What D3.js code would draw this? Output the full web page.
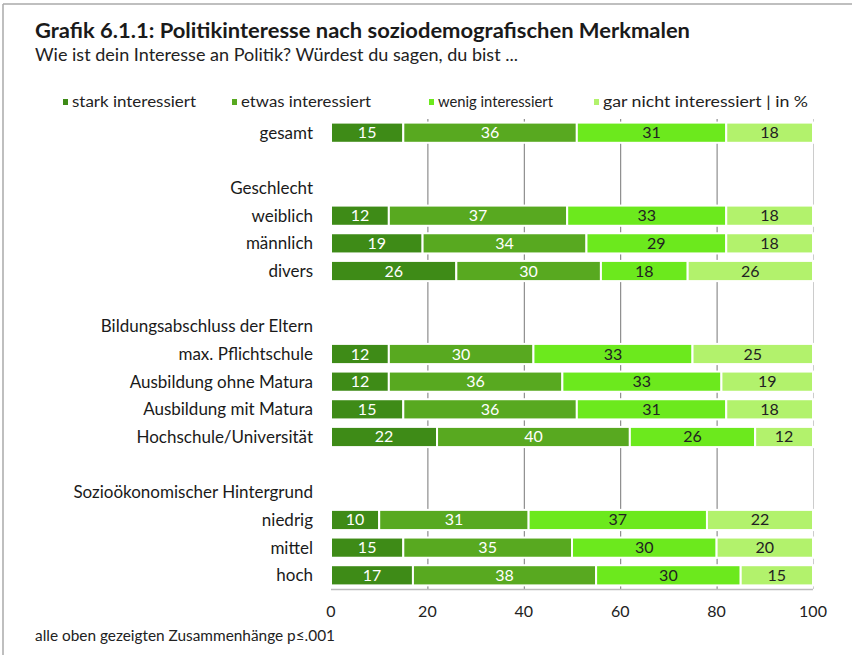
<!DOCTYPE html>
<html>
<head>
<meta charset="utf-8">
<script src="https://cdn.jsdelivr.net/npm/d3@7.9.0/dist/d3.min.js"></script>
<style>
  body { margin: 0; background: #fff; }
  svg { font-family: Lato, "Open Sans", sans-serif; }
</style>
</head>
<body>
<svg id="chart" width="852" height="655"></svg>
<script>
const rows = [
  "gesamt", "", "Geschlecht", "weiblich", "männlich", "divers", "",
  "Bildungsabschluss der Eltern", "max. Pflichtschule", "Ausbildung ohne Matura",
  "Ausbildung mit Matura", "Hochschule/Universität", "",
  "Sozioökonomischer Hintergrund", "niedrig", "mittel", "hoch"
];
const seriesNames = ["stark interessiert", "etwas interessiert", "wenig interessiert", "gar nicht interessiert | in %"];
const stark    = [15, null, null, 12, 19, 26, null, null, 12, 12, 15, 22, null, null, 10, 15, 17];
const etwas    = [36, null, null, 37, 34, 30, null, null, 30, 36, 36, 40, null, null, 31, 35, 38];
const wenig    = [31, null, null, 33, 29, 18, null, null, 33, 33, 31, 26, null, null, 37, 30, 30];
const garNicht = [18, null, null, 18, 18, 26, null, null, 25, 19, 18, 12, null, null, 22, 20, 15];
const ticks = [0, 20, 40, 60, 80, 100];

const colors = ["#3e8b17", "#58a920", "#6ce91d", "#b2f26c"];
const textColors = ["#fff", "#fff", "#222", "#222"];

const svg = d3.select("#chart");

// frame
svg.append("line").attr("x1", 3).attr("x2", 852).attr("y1", 4).attr("y2", 4).attr("stroke", "#aaa").attr("stroke-width", 1.5);
svg.append("line").attr("x1", 3).attr("x2", 3).attr("y1", 4).attr("y2", 655).attr("stroke", "#aaa").attr("stroke-width", 1.5);

// headings
svg.append("text").attr("x", 35).attr("y", 38).attr("font-size", 20).attr("font-weight", "bold")
  .attr("fill", "#1a1a1a").attr("textLength", 655).attr("lengthAdjust", "spacingAndGlyphs")
  .text("Grafik 6.1.1: Politikinteresse nach soziodemografischen Merkmalen");
svg.append("text").attr("x", 35).attr("y", 61).attr("font-size", 16.5).attr("fill", "#222")
  .attr("textLength", 483).attr("lengthAdjust", "spacingAndGlyphs")
  .text("Wie ist dein Interesse an Politik? Würdest du sagen, du bist ...");

// legend
const legendX = [63, 232, 429, 594];
const legendW = [124, 130, 115, 205];
seriesNames.forEach((name, i) => {
  svg.append("rect").attr("x", legendX[i]).attr("y", 99).attr("width", 5).attr("height", 6).attr("fill", colors[i]);
  svg.append("text").attr("x", legendX[i] + 9).attr("y", 107).attr("font-size", 15.5).attr("fill", "#222")
    .attr("textLength", legendW[i]).attr("lengthAdjust", "spacingAndGlyphs").text(name);
});

const x = d3.scaleLinear().domain([0, 100]).range([331, 813]);
const y = d3.scaleBand().domain(d3.range(rows.length)).range([119, 589]).paddingInner(0.27).paddingOuter(0.13);

// gridlines
svg.append("g").selectAll("line").data(ticks.slice(1)).join("line")
  .attr("x1", d => x(d) + 0.5).attr("x2", d => x(d) + 0.5)
  .attr("y1", 119).attr("y2", 589)
  .attr("stroke", d => d === 100 ? "#ccc" : "#777").attr("stroke-width", 1);

// axis baseline
svg.append("line").attr("x1", x(0)).attr("x2", x(100)).attr("y1", 589.5).attr("y2", 589.5)
  .attr("stroke", "#bbb").attr("stroke-width", 1.5);

// stacked bars
const data = rows.map((r, i) => ({ label: r, values: [stark[i], etwas[i], wenig[i], garNicht[i]] }));
const stack = d3.stack().keys([0, 1, 2, 3]).value((d, k) => d.values[k] ?? 0);
const layers = stack(data);

layers.forEach((layer, k) => {
  const g = svg.append("g");
  layer.forEach((seg, i) => {
    if (data[i].values[k] == null) return;
    g.append("rect")
      .attr("x", x(seg[0]))
      .attr("y", y(i))
      .attr("width", x(seg[1]) - x(seg[0]))
      .attr("height", y.bandwidth())
      .attr("fill", colors[k])
      .attr("stroke", "#fff").attr("stroke-width", 2);
    g.append("text")
      .attr("x", (x(seg[0]) + x(seg[1])) / 2)
      .attr("y", y(i) + y.bandwidth() / 2 + 5.5)
      .attr("text-anchor", "middle")
      .attr("font-size", 16)
      .attr("fill", textColors[k])
      .text(data[i].values[k]);
  });
});

// row labels
svg.append("g").selectAll("text").data(rows).join("text")
  .attr("x", 313)
  .attr("y", (d, i) => y(i) + y.bandwidth() / 2 + 6)
  .attr("text-anchor", "end")
  .attr("font-size", 17)
  .attr("fill", "#1a1a1a")
  .text(d => d);

// tick labels
svg.append("g").selectAll("text").data(ticks).join("text")
  .attr("x", d => x(d))
  .attr("y", 617)
  .attr("text-anchor", "middle")
  .attr("font-size", 16)
  .attr("fill", "#222")
  .text(d => d);

svg.append("text").attr("x", 35).attr("y", 641).attr("font-size", 15.5).attr("fill", "#222")
  .attr("textLength", 300).attr("lengthAdjust", "spacingAndGlyphs")
  .text("alle oben gezeigten Zusammenhänge p≤.001");
</script>
</body>
</html>
